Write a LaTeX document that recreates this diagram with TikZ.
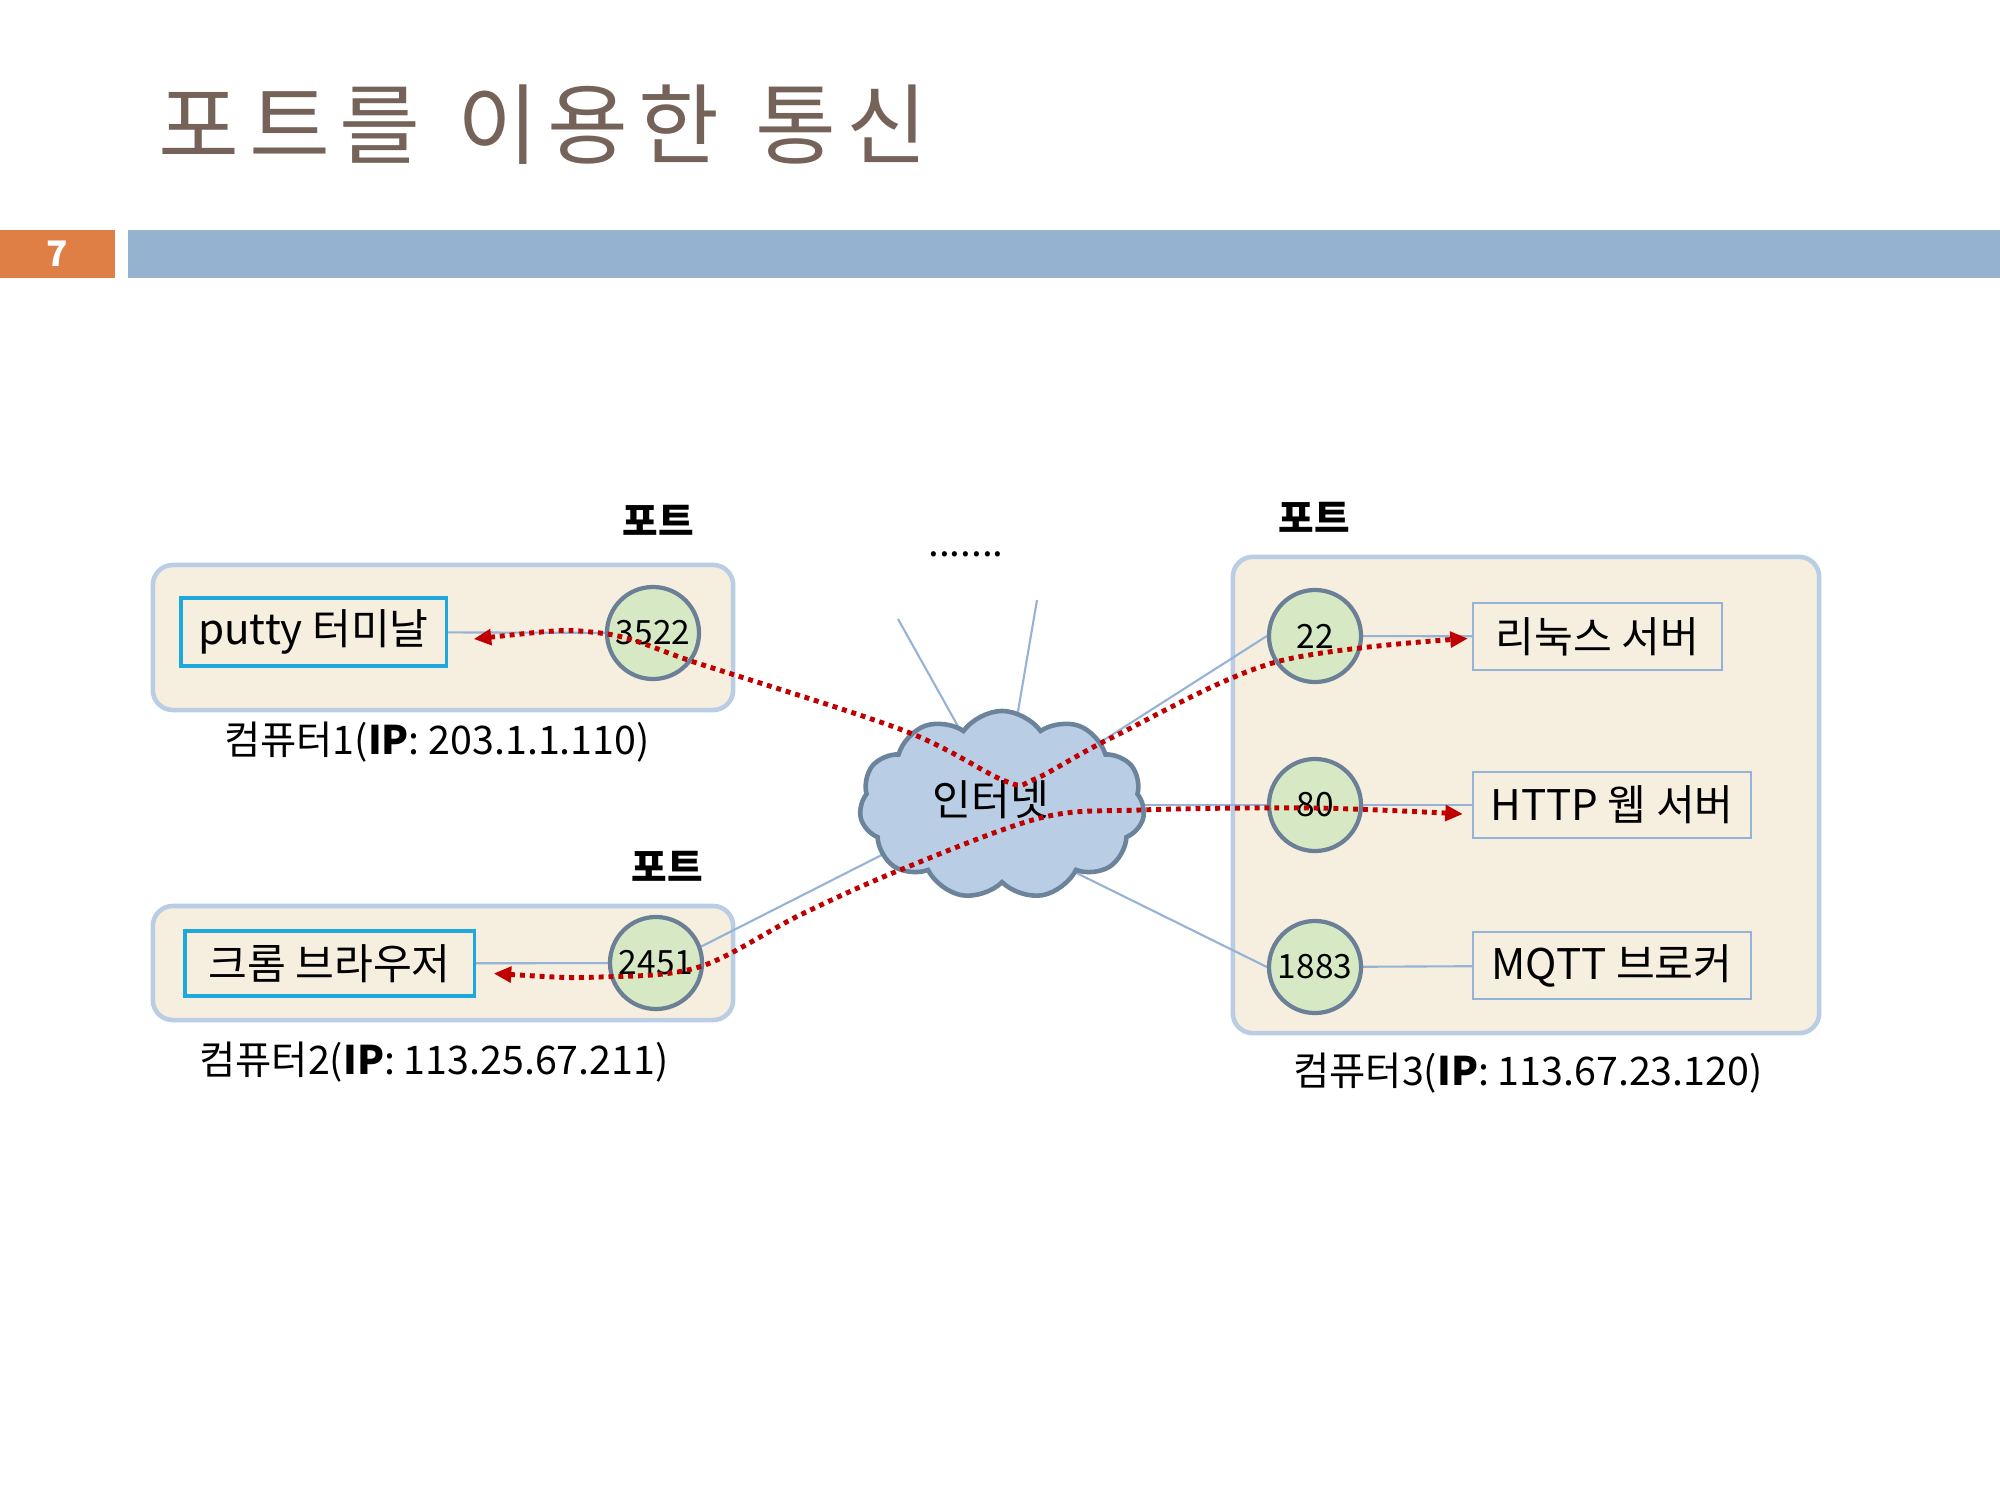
\documentclass[tikz,border=0pt]{standalone}
\usepackage{fontspec}
\setmainfont{Noto Sans CJK KR}
\newfontfamily\titlefont[LetterSpace=11]{Noto Sans CJK KR}
\usetikzlibrary{shapes.symbols,arrows.meta,calc}
\pgfdeclarelayer{bg}\pgfdeclarelayer{mid}
\pgfsetlayers{bg,mid,main}
\definecolor{titlec}{RGB}{117,98,88}
\definecolor{orangec}{RGB}{224,127,69}
\definecolor{barblue}{RGB}{149,179,208}
\definecolor{boxfill}{RGB}{246,238,222}
\definecolor{boxborder}{RGB}{185,205,229}
\definecolor{cyanb}{RGB}{30,168,220}
\definecolor{lineblue}{RGB}{149,179,215}
\definecolor{circf}{RGB}{215,233,196}
\definecolor{circb}{RGB}{107,128,150}
\definecolor{cloudf}{RGB}{185,205,229}
\definecolor{cloudb}{RGB}{107,132,156}
\definecolor{redc}{RGB}{192,0,0}
\tikzset{
  compbox/.style={draw=boxborder, line width=1.3pt, fill=boxfill, rounded corners=0.2cm, inner sep=0pt},
  appbox/.style={draw=cyanb, line width=0.9pt, fill=boxfill, inner sep=0pt, font=\fontsize{12}{14}\selectfont},
  srvbox/.style={draw=lineblue, line width=0.6pt, fill=boxfill, inner sep=0pt, font=\fontsize{12}{14}\selectfont},
  port/.style={circle, draw=circb, line width=1.2pt, fill=circf, minimum size=0.92cm, inner sep=0pt, font=\fontsize{9.5}{10}\selectfont},
  link/.style={draw=lineblue, line width=0.6pt},
  portlbl/.style={font=\bfseries\fontsize{11}{12}\selectfont},
  complbl/.style={font=\fontsize{11.2}{13}\selectfont},
  redflow/.style={draw=redc, line width=1.4pt, dash pattern=on 1.4pt off 1.4pt,
    {Triangle[length=5pt,width=4.4pt]}-{Triangle[length=5pt,width=4.4pt]}},
}
\begin{document}
\begin{tikzpicture}[x=0.01cm,y=-0.01cm]
\path[use as bounding box] (0,0) rectangle (2000,1500);
% header
\node[anchor=west, text=titlec, font=\titlefont\fontsize{25}{30}\selectfont, inner sep=0pt] (title) at (158,125) {포트를\hspace{0.08em} 이용한\hspace{0.08em} 통신};
\node[fill=orangec, minimum width=1.15cm, minimum height=0.48cm, inner sep=0pt, text=white, font=\bfseries\fontsize{10}{12}\selectfont] (num) at (57.5,254) {7};
\node[fill=barblue, minimum width=18.71cm, minimum height=0.48cm, inner sep=0pt] (bar) at (1064.5,254) {};
% computer boxes
\begin{pgfonlayer}{bg}
\node[compbox, minimum width=5.8cm, minimum height=1.45cm] (comp1) at (443,637.5) {};
\node[compbox, minimum width=5.8cm, minimum height=1.14cm] (comp2) at (443,963) {};
\node[compbox, minimum width=5.86cm, minimum height=4.76cm] (comp3) at (1526,795) {};
\end{pgfonlayer}
% apps
\node[appbox, minimum width=2.65cm, minimum height=0.68cm] (putty) at (313.5,632) {putty 터미날};
\node[appbox, minimum width=2.89cm, minimum height=0.65cm] (chrome) at (329.5,963.5) {크롬 브라우저};
\node[srvbox, minimum width=2.49cm, minimum height=0.67cm] (linux) at (1597.5,636.5) {리눅스 서버};
\node[srvbox, minimum width=2.78cm, minimum height=0.66cm] (http) at (1612,805) {HTTP 웹 서버};
\node[srvbox, minimum width=2.78cm, minimum height=0.67cm] (mqtt) at (1612,965.5) {MQTT 브로커};
% ports
\node[port] (c3522) at (653,633) {3522};
\node[port] (c2451) at (656,963) {2451};
\node[port] (c22) at (1315,636) {22};
\node[port] (c80) at (1315,805) {80};
\node[port] (c1883) at (1315,967) {1883};
% cloud
\node[cloud, cloud puffs=11, cloud puff arc=110, aspect=1.5, draw=cloudb, line width=1.3pt, fill=cloudf,
  minimum width=2.85cm, minimum height=1.88cm, inner sep=0pt] (cloud) at (1002,805) {};
\node[font=\fontsize{12}{14}\selectfont, inner sep=0pt] (inet) at (991,800) {인터넷};
% labels
\node[portlbl] (pt1) at (658,520) {포트};
\node[portlbl] (pt2) at (667,866) {포트};
\node[portlbl] (pt3) at (1314,517) {포트};
\node[complbl] (lab1) at (437,742) {컴퓨터1({\bfseries IP}: 203.1.1.110)};
\node[complbl] (lab2) at (434,1062) {컴퓨터2({\bfseries IP}: 113.25.67.211)};
\node[complbl] (lab3) at (1528,1073) {컴퓨터3({\bfseries IP}: 113.67.23.120)};
\node[anchor=base, font=\fontsize{11}{12}\selectfont, inner sep=0pt] (dots) at (966,556) {.......};
% free ends and inner points
\coordinate (u1) at (898,619);
\coordinate (u2) at (1037,600);
\coordinate (cl3) at (1040,855);
\coordinate (cl4) at (990,800);
% links
\begin{pgfonlayer}{mid}
\draw[link] (putty) -- (c3522);
\draw[link] (chrome) -- (c2451);
\draw[link] (c22) -- (linux);
\draw[link] (c80) -- (http);
\draw[link] (c1883) -- (mqtt);
\draw[link] (u1) -- (cloud.center);
\draw[link] (u2) -- (cloud.center);
\draw[link] (cloud.center) -- (c22.west);
\draw[link] (cloud.center) -- (c80);
\draw[link] (cl3) -- (c1883.west);
\draw[link] (cl4) -- (c2451.20);
\end{pgfonlayer}
% red flows
\coordinate (p1s) at ($(putty.east)+(26,7)$);
\coordinate (p1e) at ($(linux.west)+(-4,2)$);
\coordinate (p2s) at ($(chrome.east)+(18,10)$);
\coordinate (p2e) at ($(http.west)+(-9,9)$);
\draw[redflow] plot[smooth, tension=0.55] coordinates {(p1s) (600,633) (700,664) (905,731) (1005,781) (1035,779) (1113,737) (1276,662) (p1e)};
\draw[redflow] plot[smooth, tension=0.55] coordinates {(p2s) (600,977) (699,967) (800,915) (900,870) (1040,818) (1140,810) (1314,808) (p2e)};
\end{tikzpicture}
\end{document}
